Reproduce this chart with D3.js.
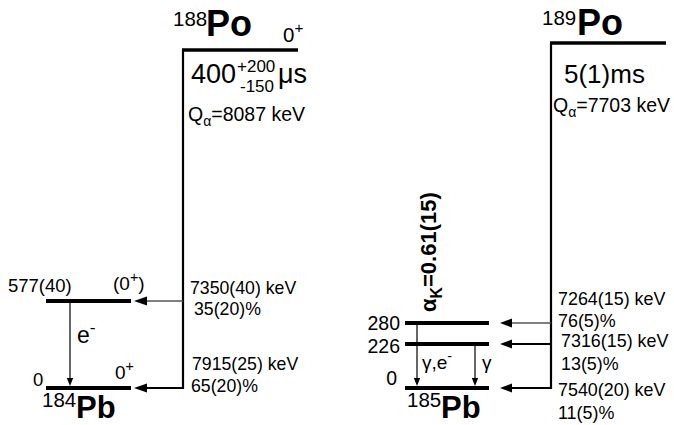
<!DOCTYPE html>
<html>
<head>
<meta charset="utf-8">
<script src="https://cdn.jsdelivr.net/npm/d3@7"></script>
<style>
  html, body { margin: 0; padding: 0; background: #fff; }
  svg { display: block; }
</style>
</head>
<body>
<div id="chart"></div>
<script>
// ---------------- DATA ----------------
// 188Po -> 184Pb
const po188Spin = "0+";
const po188Q = 8087;                 // keV
const po188HalfLife = ["400", "+200", "-150", "μs"];
const pb184LevelEnergies = [0, 577];            // keV
const pb184LevelLabels = ["0", "577(40)"];
const pb184LevelSpins = ["0+", "(0+)"];
const po188AlphaLabels = ["7915(25) keV", "7350(40) keV"];
const po188AlphaIntensities = ["65(20)%", "35(20)%"];
const pb184TransFrom = [577];
const pb184TransTo = [0];
const pb184TransLabels = ["e-"];

// 189Po -> 185Pb
const po189Q = 7703;                 // keV
const po189HalfLife = "5(1)ms";
const pb185LevelEnergies = [0, 226, 280];       // keV
const pb185LevelLabels = ["0", "226", "280"];
const po189AlphaLabels = ["7540(20) keV", "7316(15) keV", "7264(15) keV"];
const po189AlphaIntensities = ["11(5)%", "13(5)%", "76(5)%"];
const pb185TransFrom = [280, 226];
const pb185TransTo = [0, 0];
const pb185TransLabels = ["γ,e-", "γ"];
const alphaK = "0.61(15)";

// ---------------- LAYOUT ----------------
const W = 674, H = 425;
const FONT = "'Liberation Sans', Arial, Helvetica, sans-serif";

const svg = d3.select("#chart").append("svg")
  .attr("width", W).attr("height", H)
  .style("font-family", FONT);

// schematic (piecewise linear) energy scales
const yL = d3.scaleLinear().domain([0, 577, po188Q]).range([388, 301, 50]);
const yR = d3.scaleLinear().domain([0, 226, 280, po189Q]).range([388, 344, 323, 43]);

// text helper with super/subscript runs
function richText(g, x, y, size, runs, opts = {}) {
  const t = g.append("text").attr("x", x).attr("y", y)
    .attr("font-size", size).attr("fill", "#000")
    .attr("font-weight", opts.weight || "normal")
    .attr("text-anchor", opts.anchor || "start");
  if (opts.transform) t.attr("transform", opts.transform);
  let shift = 0;
  runs.forEach(([s, kind]) => {
    const sp = t.append("tspan").text(s);
    let target = 0, fs = size;
    if (kind === "sup") { target = -0.42 * size; fs = (opts.supScale || 0.75) * size; }
    if (kind === "sub") { target = 0.28 * size; fs = (opts.subScale || 0.68) * size; }
    sp.attr("font-size", fs).attr("dy", target - shift);
    shift = target;
  });
  return t;
}
function spinRuns(s) {
  const runs = [];
  const m = s.match(/^(.*?)([+-])(\)?)$/);
  if (m) {
    runs.push([m[1], ""]); runs.push([m[2], "sup"]);
    if (m[3]) runs.push([m[3], ""]);
  } else runs.push([s, ""]);
  return runs;
}

function arrowLeft(g, x1, xTip, y, headLen, headHalf, width, color) {
  g.append("line").attr("x1", x1).attr("x2", xTip + headLen - 1)
    .attr("y1", y).attr("y2", y)
    .attr("stroke", color).attr("stroke-width", width);
  g.append("path")
    .attr("d", `M${xTip},${y} L${xTip + headLen},${y - headHalf} L${xTip + headLen},${y + headHalf} Z`)
    .attr("fill", "#000");
}
function arrowDown(g, x, y1, yTip, width) {
  g.append("line").attr("x1", x).attr("x2", x)
    .attr("y1", y1).attr("y2", yTip - 6)
    .attr("stroke", "#000").attr("stroke-width", width);
  g.append("path")
    .attr("d", `M${x},${yTip} L${x - 3.2},${yTip - 8} L${x + 3.2},${yTip - 8} Z`)
    .attr("fill", "#000");
}

// ================= LEFT PANEL: 188Po =================
const gL = svg.append("g");
const xvL = 183;
gL.append("line").attr("x1", xvL - 1).attr("x2", 298)
  .attr("y1", yL(po188Q)).attr("y2", yL(po188Q))
  .attr("stroke", "#000").attr("stroke-width", 3.6);
gL.append("line").attr("x1", xvL).attr("x2", xvL)
  .attr("y1", yL(po188Q)).attr("y2", yL(0) + 1)
  .attr("stroke", "#000").attr("stroke-width", 2.2);
// title
richText(gL, 173, 26, 20.5, [["188", ""]]);
richText(gL, 206, 36, 36, [["Po", ""]], { weight: "bold" });
richText(gL, 283, 42, 20.5, spinRuns(po188Spin));
// half-life
richText(gL, 191, 83, 27, [[po188HalfLife[0], ""]]);
richText(gL, 237, 72, 17, [[po188HalfLife[1], ""]]);
richText(gL, 240, 92, 17, [[po188HalfLife[2], ""]]);
richText(gL, 278, 83, 27, [[po188HalfLife[3], ""]]);
// Q value
richText(gL, 188, 121, 19.5, [["Q", ""], ["α", "sub"], ["=" + po188Q + " keV", ""]], { subScale: 0.72 });

// daughter levels
const lvlLabelX = [33, 8], lvlLabelDy = [-2, -9];
const spinX = [115, 113], spinDy = [-9, -11];
pb184LevelEnergies.forEach((E, i) => {
  const y = yL(E);
  gL.append("line").attr("x1", 46).attr("x2", 131).attr("y1", y).attr("y2", y)
    .attr("stroke", "#000").attr("stroke-width", 4);
  richText(gL, lvlLabelX[i], y + lvlLabelDy[i], 18.5, [[pb184LevelLabels[i], ""]]);
  richText(gL, spinX[i], y + spinDy[i], 19, spinRuns(pb184LevelSpins[i]));
});
// alpha branches
const aLabDy = [-18, -7], aIntDy = [4, 14], aLabX = [192, 190], aIntX = [191, 194];
pb184LevelEnergies.forEach((E, i) => {
  const y = yL(E);
  arrowLeft(gL, xvL, 134, y, 13, 4.5, i === 0 ? 2 : 1.4, i === 0 ? "#000" : "#555");
  richText(gL, aLabX[i], y + aLabDy[i], 17.7, [[po188AlphaLabels[i], ""]]);
  richText(gL, aIntX[i], y + aIntDy[i], 17.7, [[po188AlphaIntensities[i], ""]]);
});
// internal transitions
pb184TransFrom.forEach((Ef, i) => {
  arrowDown(gL, 70, yL(Ef) + 2, yL(pb184TransTo[i]) - 2, 1.2);
  richText(gL, 77, yL(Ef) + 42, 23, spinRuns(pb184TransLabels[i]));
});
// daughter name
richText(gL, 42, 407, 20.5, [["184", ""]]);
richText(gL, 76, 418, 31, [["Pb", ""]], { weight: "bold" });

// ================= RIGHT PANEL: 189Po =================
const gR = svg.append("g");
const xvR = 551;
gR.append("line").attr("x1", xvR - 1).attr("x2", 666)
  .attr("y1", yR(po189Q)).attr("y2", yR(po189Q))
  .attr("stroke", "#000").attr("stroke-width", 3.6);
gR.append("line").attr("x1", xvR).attr("x2", xvR)
  .attr("y1", yR(po189Q)).attr("y2", yR(0) + 1)
  .attr("stroke", "#000").attr("stroke-width", 2.2);
richText(gR, 542, 25, 20.5, [["189", ""]]);
richText(gR, 577, 35, 36, [["Po", ""]], { weight: "bold" });
richText(gR, 564, 83, 26, [[po189HalfLife, ""]]);
richText(gR, 553, 112, 19.5, [["Q", ""], ["α", "sub"], ["=" + po189Q + " keV", ""]], { subScale: 0.72 });

// levels
const rLabX = [397, 400, 400], rLabDy = [-3, 9, 7];
pb185LevelEnergies.forEach((E, i) => {
  const y = yR(E);
  gR.append("line").attr("x1", 405).attr("x2", 489).attr("y1", y).attr("y2", y)
    .attr("stroke", "#000").attr("stroke-width", 4);
  richText(gR, rLabX[i], y + rLabDy[i], 19.5, [[pb185LevelLabels[i], ""]], { anchor: "end" });
});
// alpha branches
const raLabDy = [8, 3, -18], raIntDy = [31, 26, 4], raX = [558, 561, 558];
pb185LevelEnergies.forEach((E, i) => {
  const y = yR(E);
  arrowLeft(gR, xvR, 500, y, 12, 4.5, i === 2 ? 1.4 : 2, i === 2 ? "#555" : "#000");
  richText(gR, raX[i], y + raLabDy[i], 17.9, [[po189AlphaLabels[i], ""]]);
  richText(gR, raX[i], y + raIntDy[i], 17.9, [[po189AlphaIntensities[i], ""]]);
});
// gamma / conversion transitions
const gX = [417, 475], gLabX = [422, 482];
pb185TransFrom.forEach((Ef, i) => {
  arrowDown(gR, gX[i], yR(Ef) + 2, yR(pb185TransTo[i]) - 2, 1.2);
  richText(gR, gLabX[i], 369, 19, spinRuns(pb185TransLabels[i]));
});
// alpha_K rotated label
richText(gR, 0, 0, 22, [["α", ""], ["K", "sub"], ["=" + alphaK, ""]],
  { weight: "bold", subScale: 0.72, transform: "translate(436,312) rotate(-90)" });
// daughter name
richText(gR, 407, 407, 20.5, [["185", ""]]);
richText(gR, 441, 418, 31, [["Pb", ""]], { weight: "bold" });
</script>
</body>
</html>
